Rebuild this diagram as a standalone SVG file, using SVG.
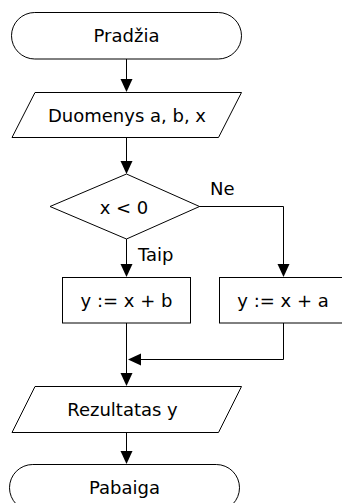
<svg xmlns="http://www.w3.org/2000/svg" width="342" height="503" viewBox="0 0 342 503">
<defs>
<style>
.s{fill:#fff;stroke:#000;stroke-width:1}
.l{fill:none;stroke:#000;stroke-width:1}
.h{fill:#000;stroke:none}
text{font-family:"DejaVu Sans",Verdana,sans-serif;font-size:18px;fill:#000}
.c{text-anchor:middle}
</style>
</defs>
<rect width="342" height="503" fill="#fff"/>
<g id="connectors">
<line class="l" x1="126.5" y1="59" x2="126.5" y2="80"/>
<polygon class="h" points="120.5,79 132.5,79 126.5,92"/>
<line class="l" x1="126.5" y1="137.5" x2="126.5" y2="162"/>
<polygon class="h" points="120.5,161 132.5,161 126.5,174"/>
<polyline class="l" points="199,206.5 283.5,206.5 283.5,265"/>
<polygon class="h" points="277.5,264 289.5,264 283.5,277"/>
<line class="l" x1="126.5" y1="239" x2="126.5" y2="265"/>
<polygon class="h" points="120.5,264 132.5,264 126.5,277"/>
<line class="l" x1="126.5" y1="323" x2="126.5" y2="374"/>
<polygon class="h" points="120.5,373 132.5,373 126.5,386"/>
<polyline class="l" points="283.5,323 283.5,359.5 140,359.5"/>
<polygon class="h" points="141,353.5 141,365.5 128,359.5"/>
<line class="l" x1="126.5" y1="432.5" x2="126.5" y2="452"/>
<polygon class="h" points="120.5,451 132.5,451 126.5,464"/>
</g>
<g id="start">
<rect class="s" x="11.5" y="12.5" width="230" height="46.5" rx="23.25"/>
<text class="c" x="126.5" y="42">Pradžia</text>
</g>
<g id="input">
<polygon class="s" points="35,92.5 241.5,92.5 218.5,137.5 12,137.5"/>
<text class="c" x="127" y="121.5">Duomenys a, b, x</text>
</g>
<g id="decision">
<polygon class="s" points="126.5,174 199.5,206.5 126.5,239 50,206.5"/>
<text class="c" x="124" y="213.5">x &lt; 0</text>
<text x="210" y="195">Ne</text>
<text x="138" y="260.5">Taip</text>
</g>
<g id="yes">
<rect class="s" x="62.5" y="277.5" width="128" height="45.5"/>
<text class="c" x="126.5" y="306.5">y := x + b</text>
</g>
<g id="no">
<rect class="s" x="219.5" y="277.5" width="128" height="45.5"/>
<text class="c" x="283" y="306.5">y := x + a</text>
</g>
<g id="output">
<polygon class="s" points="35,386.5 241.5,386.5 218.5,432.5 12,432.5"/>
<text class="c" x="122.5" y="415.5">Rezultatas y</text>
</g>
<g id="end">
<rect class="s" x="9.5" y="464.5" width="230" height="46.5" rx="23.25"/>
<text class="c" x="124.5" y="493.5">Pabaiga</text>
</g>
</svg>
